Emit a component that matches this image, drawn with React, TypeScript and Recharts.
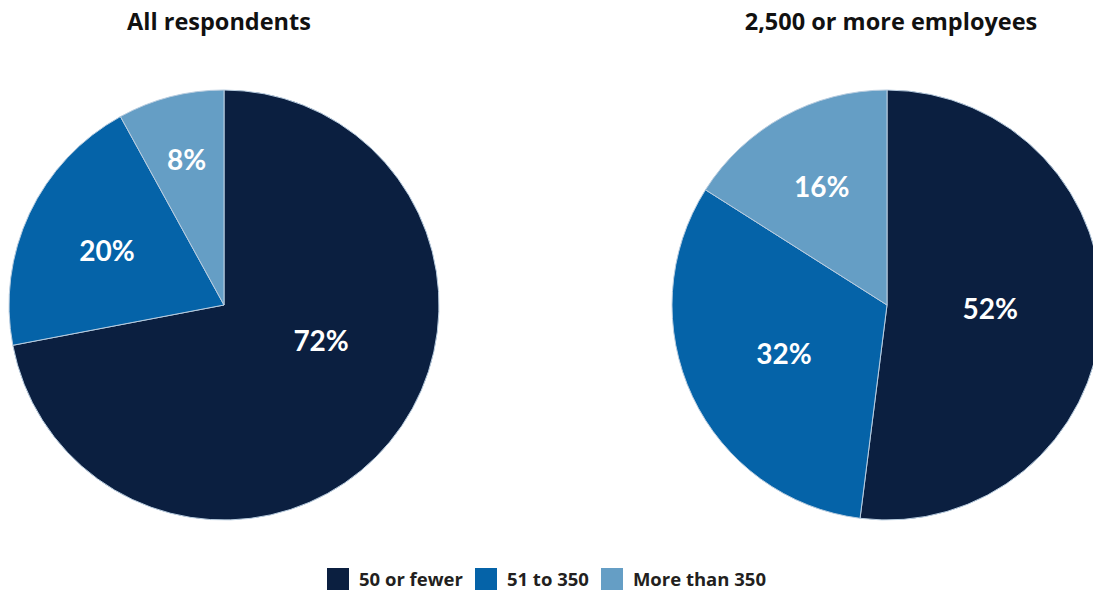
import { PieChart, Pie, Cell } from "recharts";

const categories = ["50 or fewer", "51 to 350", "More than 350"];
const allRespondents = [72, 20, 8];
const largeEmployers = [52, 32, 16];
const titles = ["All respondents", "2,500 or more employees"];
const colors = ["#0b1f40", "#0563a8", "#659ec5"];

const FONT = "Lato, 'Open Sans', sans-serif";
const TITLE_FONT = "'Open Sans', Lato, sans-serif";
const RAD = Math.PI / 180;

const allData = categories.map((name, i) => ({ name, value: allRespondents[i] }));
const bigData = categories.map((name, i) => ({ name, value: largeEmployers[i] }));

// label sits roughly where the biggest circle fits inside the slice
function renderLabel(props: any) {
  const { cx, cy, midAngle, startAngle, outerRadius, percent, value } = props;
  const half = Math.PI * percent;
  let d: number;
  let angle = midAngle;
  if (half >= Math.PI / 2) {
    d = 0.48;
    angle = (midAngle + (startAngle - 90)) / 2;
  } else {
    const centroid = (2 * Math.sin(half)) / (3 * half);
    const inscribed = 1 / (1 + Math.sin(half));
    d = ((centroid + inscribed) / 2) * 0.96;
  }
  const r = outerRadius * d;
  const x = cx + r * Math.cos(-angle * RAD);
  const y = cy + r * Math.sin(-angle * RAD);
  return (
    <text
      x={x}
      y={y}
      fill="#ffffff"
      textAnchor="middle"
      dominantBaseline="central"
      style={{ fontFamily: FONT, fontWeight: 700, fontSize: 28 }}
    >
      {`${value}%`}
    </text>
  );
}

function ChartLegend() {
  return (
    <div
      style={{
        position: "absolute",
        left: 0,
        top: 568,
        width: 1093,
        display: "flex",
        justifyContent: "center",
        alignItems: "center",
        gap: 12,
        fontFamily: TITLE_FONT,
        fontWeight: 700,
        fontSize: 18.5,
        lineHeight: "22px",
        color: "#231f20",
      }}
    >
      {categories.map((c, i) => (
        <div key={c} style={{ display: "flex", alignItems: "center", gap: 10 }}>
          <span style={{ width: 22, height: 22, background: colors[i], display: "inline-block" }} />
          <span>{c}</span>
        </div>
      ))}
    </div>
  );
}

export default function App() {
  const titleStyle = {
    position: "absolute" as const,
    top: 5,
    textAlign: "center" as const,
    fontFamily: TITLE_FONT,
    fontWeight: 700,
    fontSize: 23.5,
    color: "#111",
    whiteSpace: "nowrap" as const,
  };
  return (
    <div style={{ position: "fixed", left: 0, top: 0, width: 1093, height: 591, fontFamily: FONT, background: "#fff" }}>
      <div style={{ ...titleStyle, left: 69, width: 300 }}>{titles[0]}</div>
      <div style={{ ...titleStyle, left: 741, width: 300 }}>{titles[1]}</div>
      <PieChart
        width={1093}
        height={560}
        margin={{ top: 0, right: 0, bottom: 0, left: 0 }}
        style={{ position: "absolute", left: 0, top: 0 }}
      >
        <Pie
          data={allData}
          dataKey="value"
          nameKey="name"
          cx={224}
          cy={305}
          outerRadius={215}
          startAngle={90}
          endAngle={-270}
          stroke="#b9cde0"
          strokeWidth={1}
          labelLine={false}
          label={renderLabel}
          isAnimationActive={false}
        >
          {allData.map((d, i) => (
            <Cell key={d.name} fill={colors[i]} />
          ))}
        </Pie>
        <Pie
          data={bigData}
          dataKey="value"
          nameKey="name"
          cx={887}
          cy={305}
          outerRadius={215}
          startAngle={90}
          endAngle={-270}
          stroke="#b9cde0"
          strokeWidth={1}
          labelLine={false}
          label={renderLabel}
          isAnimationActive={false}
        >
          {bigData.map((d, i) => (
            <Cell key={d.name} fill={colors[i]} />
          ))}
        </Pie>
      </PieChart>
      <ChartLegend />
    </div>
  );
}
